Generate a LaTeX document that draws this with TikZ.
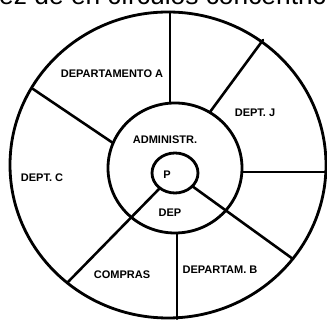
\documentclass[tikz,border=0pt]{standalone}
\usepackage{fontspec}
\setmainfont{Liberation Sans}
\begin{document}
\begin{tikzpicture}[
  x=0.03cm,
  y=-0.03cm,
  line join=round,
  line cap=round,
  ring/.style={draw=black,line width=2.4pt},
  spoke/.style={draw=black,line width=2.2pt},
  dept/.style={font=\bfseries\fontsize{9.4}{11}\selectfont,inner sep=0pt},
  caption/.style={font=\fontsize{22.5}{26}\selectfont,inner sep=0pt,anchor=base west,overlay}
]
  \useasboundingbox (0,0) rectangle (327,320);
  \clip (0,0) rectangle (327,320);

  % Ring centres, on the pixel grid of the original (y runs downwards).
  \coordinate (Oout) at (168,165);
  \coordinate (Omid) at (175,168);
  \coordinate (Oin) at (175,173);

  % Caption line, cut off by the top edge.
  \node[caption] (caption) at (-1,4.5) {ez de en círculos concéntricos};

  % The three rings.
  \draw[ring] (Oout) ellipse [x radius=158, y radius=153];
  \draw[ring] (Omid) ellipse [x radius=67, y radius=65];
  \draw[ring] (Oin) ellipse [x radius=23, y radius=20];

  % Spoke ends on the middle / inner rings and on the outer ring.
  \coordinate (topM) at (170,103);
  \coordinate (topO) at (170,12);
  \coordinate (jM) at (210,112);
  \coordinate (jO) at (263,40);
  \coordinate (rgtM) at (242,172);
  \coordinate (rgtO) at (327,172);
  \coordinate (lftM) at (113,143);
  \coordinate (lftO) at (33,89);
  \coordinate (llI) at (160,188);
  \coordinate (llO) at (67,283);
  \coordinate (lrI) at (192,186);
  \coordinate (lrO) at (293,259);
  \coordinate (botM) at (177,233);
  \coordinate (botO) at (177,319);

  \draw[spoke] (topM) -- (topO);
  \draw[spoke] (jM) -- (jO);
  \draw[spoke] (rgtM) -- (rgtO);
  \draw[spoke] (lftM) -- (lftO);
  \draw[spoke] (llI) -- (llO);
  \draw[spoke] (lrI) -- (lrO);
  \draw[spoke] (botM) -- (botO);

  % Department labels.
  \node[dept] (depA) at (112,74) {DEPARTAMENTO A};
  \node[dept] (depJ) at (255,113) {DEPT. J};
  \node[dept] (admin) at (165,140) {ADMINISTR.};
  \node[dept] (pres) at (167,175) {P};
  \node[dept] (depC) at (42,178) {DEPT. C};
  \node[dept] (dep) at (170,213) {DEP};
  \node[dept] (compras) at (122,275) {COMPRAS};
  \node[dept] (depB) at (220,270) {DEPARTAM. B};
\end{tikzpicture}
\end{document}
